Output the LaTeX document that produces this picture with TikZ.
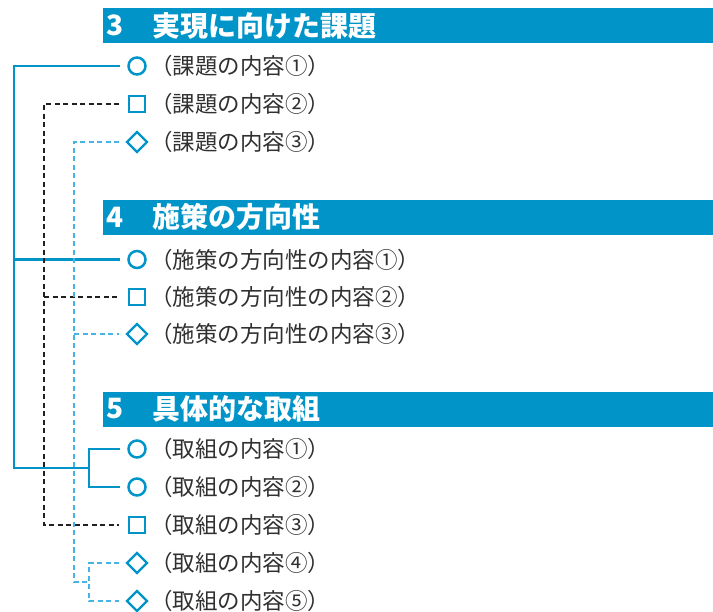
\documentclass[tikz,border=0pt]{standalone}
\usepackage{fontspec}
\setmainfont{Noto Sans CJK JP}
\usetikzlibrary{shapes.geometric}
\definecolor{hblue}{HTML}{0094C8}
\definecolor{lblue}{HTML}{45B4E4}
\definecolor{kline}{HTML}{231F20}
\definecolor{tgray}{HTML}{303030}
\begin{document}
\begin{tikzpicture}[x=1pt,y=-1pt,
  hbar/.style={fill=hblue, draw=none, minimum width=610pt, minimum height=35pt, inner sep=0pt, anchor=north west},
  htxt/.style={text=white, font=\fontsize{28}{30}\selectfont\bfseries, inner sep=0pt, anchor=west},
  itxt/.style={text=tgray, font=\fontsize{22.5}{24}\selectfont, inner sep=0pt, anchor=west},
  symcirc/.style={circle, draw=hblue, line width=2.5pt, minimum size=17pt, inner sep=0pt, outer sep=9pt},
  symsq/.style={rectangle, draw=hblue, line width=2.3pt, minimum size=16.5pt, inner sep=0pt, outer sep=9.5pt},
  symdia/.style={diamond, draw=hblue, line width=2.4pt, minimum width=20pt, minimum height=20pt, inner sep=0pt, outer sep=0pt},
  solidline/.style={draw=hblue, line width=2.2pt},
  kdash/.style={draw=kline, line width=1.9pt, dash pattern=on 5pt off 3.5pt},
  ldash/.style={draw=lblue, line width=1.9pt, dash pattern=on 5pt off 3.5pt}
]
\useasboundingbox (0,0) rectangle (713,612);

% headers
\node[hbar] (h3) at (103,8) {};
\node[htxt] (h3n) at (106,25.5) {3};
\node[htxt] (h3t) at (152,25.5) {実現に向けた課題};
\node[hbar] (h4) at (103,200) {};
\node[htxt] (h4n) at (106,217) {4};
\node[htxt] (h4t) at (152,217) {施策の方向性};
\node[hbar] (h5) at (103,392) {};
\node[htxt] (h5n) at (106,409) {5};
\node[htxt] (h5t) at (152,409) {具体的な取組};

% group 3
\node[symcirc] (s31) at (137,66) {};
\node[itxt] (t31) at (150,66) {（課題の内容①）};
\node[symsq] (s32) at (137,104) {};
\node[itxt] (t32) at (150,104) {（課題の内容②）};
\node[symdia] (s33) at (137,142) {};
\node[itxt] (t33) at (150,142) {（課題の内容③）};

% group 4
\node[symcirc] (s41) at (137,259.5) {};
\node[itxt] (t41) at (150,259.5) {（施策の方向性の内容①）};
\node[symsq] (s42) at (137,297) {};
\node[itxt] (t42) at (150,297) {（施策の方向性の内容②）};
\node[symdia] (s43) at (137,334) {};
\node[itxt] (t43) at (150,334) {（施策の方向性の内容③）};

% group 5
\node[symcirc] (s51) at (137,449) {};
\node[itxt] (t51) at (150,449) {（取組の内容①）};
\node[symcirc] (s52) at (137,487) {};
\node[itxt] (t52) at (150,487) {（取組の内容②）};
\node[symsq] (s53) at (137,525) {};
\node[itxt] (t53) at (150,525) {（取組の内容③）};
\node[symdia] (s54) at (137,563) {};
\node[itxt] (t54) at (150,563) {（取組の内容④）};
\node[symdia] (s55) at (137,601) {};
\node[itxt] (t55) at (150,601) {（取組の内容⑤）};

% connector end points in front of diamonds
\coordinate (d33) at (119,142);
\coordinate (d43) at (119,334);
\coordinate (d54) at (119,563);
\coordinate (d55) at (119,601);

% bus corners
\coordinate (sA) at (14,468);
\coordinate (sJ) at (89,468);
\coordinate (kB) at (44,525);
\coordinate (lC) at (74,582);
\coordinate (lJ) at (89,582);

% solid blue
\draw[solidline] (s31.west) -| (sA) -- (sJ);
\draw[solidline] (sA |- s41) -- (s41.west);
\draw[solidline] (s51.west) -| (sJ) |- (s52.west);

% black dashed
\draw[kdash] (s32.west) -| (kB) -- (s53.west);
\draw[kdash] (kB |- s42) -- (s42.west);

% light blue dashed
\draw[ldash] (d33) -| (lC) -- (lJ);
\draw[ldash] (lC |- d43) -- (d43);
\draw[ldash] (d54) -| (lJ) |- (d55);
\end{tikzpicture}
\end{document}
